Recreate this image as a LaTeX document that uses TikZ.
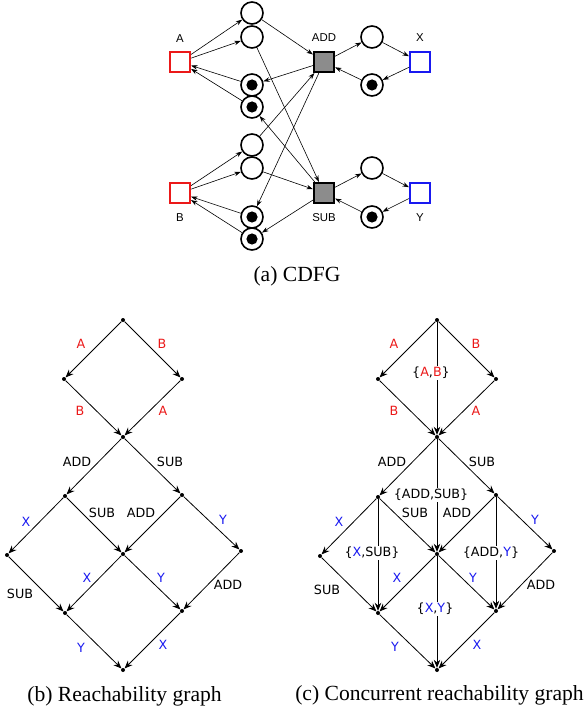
\documentclass[tikz,border=0pt]{standalone}
\usepackage{fontspec}
\setmainfont{Liberation Serif}
\newfontfamily\cdfgfont{Liberation Sans}
\newfontfamily\grfont{DejaVu Sans}
\usetikzlibrary{arrows.meta}
\definecolor{cred}{RGB}{235,25,25}
\definecolor{cblue}{RGB}{25,25,240}
\definecolor{tgray}{RGB}{140,140,140}
\begin{document}
\begin{tikzpicture}[x=1pt,y=-1pt,
 place/.style={circle,draw,line width=1.6pt,minimum size=22pt,inner sep=0pt},
 trans/.style={rectangle,draw,line width=1.6pt,minimum size=20.5pt,inner sep=0pt},
 carc/.style={-{Stealth[length=6.5pt,width=4.5pt]},line width=0.6pt},
 vtx/.style={circle,fill,inner sep=0pt,minimum size=4pt},
 garc/.style={-{Stealth[length=8pt,width=6.5pt]},line width=0.8pt},
 glab/.style={font=\grfont\fontsize{12.7}{14}\selectfont,inner sep=1pt},
 vlab/.style={glab,fill=white,inner sep=1.5pt},
 clab/.style={font=\cdfgfont\fontsize{11.4}{13}\selectfont},
 captxt/.style={font=\fontsize{21.6}{24}\selectfont,anchor=base}
]
\useasboundingbox (0,0) rectangle (586,711);

% ---------------- (a) CDFG ----------------
\node[trans,draw=cred] (A) at (180,62) {};
\node[trans,draw=cred] (B) at (180,193) {};
\node[trans,fill=tgray] (ADD) at (324,62) {};
\node[trans,fill=tgray] (SUB) at (324,193) {};
\node[trans,draw=cblue] (X) at (420,62) {};
\node[trans,draw=cblue] (Y) at (420,193) {};

\node[place] (p1) at (252,13) {};
\node[place] (p2) at (252,37) {};
\node[place] (t3) at (252,85) {};
\node[place] (t4) at (252,107) {};
\node[place] (p5) at (252,145) {};
\node[place] (p6) at (252,168) {};
\node[place] (t7) at (252,217) {};
\node[place] (t8) at (252,239) {};
\node[place] (px) at (372,37) {};
\node[place] (tx) at (372,85) {};
\node[place] (py) at (372,168) {};
\node[place] (ty) at (372,217) {};
\foreach \t in {t3,t4,t7,t8,tx,ty} \fill (\t.center) circle (5.6pt);

\node[clab] (lA) at (180,39) {A};
\node[clab] (lADD) at (324,38) {ADD};
\node[clab] (lX) at (420,38) {X};
\node[clab] (lB) at (180,218) {B};
\node[clab] (lSUB) at (324,218) {SUB};
\node[clab] (lY) at (420,218) {Y};

\draw[carc] (A) -- (p1);
\draw[carc] (A) -- (p2);
\draw[carc] (t3) -- (A);
\draw[carc] (t4) -- (A);
\draw[carc] (p1) -- (ADD);
\draw[carc] (p2) -- (SUB);
\draw[carc] (ADD) -- (t3);
\draw[carc] (SUB) -- (t4);
\draw[carc] (p5) -- (ADD);
\draw[carc] (p6) -- (SUB);
\draw[carc] (ADD) -- (t7);
\draw[carc] (SUB) -- (t8);
\draw[carc] (B) -- (p5);
\draw[carc] (B) -- (p6);
\draw[carc] (t7) -- (B);
\draw[carc] (t8) -- (B);
\draw[carc] (ADD) -- (px);
\draw[carc] (px) -- (X);
\draw[carc] (X) -- (tx);
\draw[carc] (tx) -- (ADD);
\draw[carc] (SUB) -- (py);
\draw[carc] (py) -- (Y);
\draw[carc] (Y) -- (ty);
\draw[carc] (ty) -- (SUB);

\node[captxt] (capa) at (297,281) {(a) CDFG};

% ---------------- (b) Reachability graph ----------------
\node[vtx] (b0) at (123,320) {};
\node[vtx] (b1l) at (64,379) {};
\node[vtx] (b1r) at (182,379) {};
\node[vtx] (b2) at (123,437) {};
\node[vtx] (b3l) at (65,496) {};
\node[vtx] (b3r) at (182,495) {};
\node[vtx] (b4ll) at (7,555) {};
\node[vtx] (b4c) at (123,554) {};
\node[vtx] (b4rr) at (241,551) {};
\node[vtx] (b5l) at (65,613) {};
\node[vtx] (b5r) at (182,611) {};
\node[vtx] (b6) at (123,670) {};

\draw[garc] (b0) -- (b1l);
\draw[garc] (b0) -- (b1r);
\draw[garc] (b1l) -- (b2);
\draw[garc] (b1r) -- (b2);
\draw[garc] (b2) -- (b3l);
\draw[garc] (b2) -- (b3r);
\draw[garc] (b3l) -- (b4ll);
\draw[garc] (b3l) -- (b4c);
\draw[garc] (b3r) -- (b4c);
\draw[garc] (b3r) -- (b4rr);
\draw[garc] (b4ll) -- (b5l);
\draw[garc] (b4c) -- (b5l);
\draw[garc] (b4c) -- (b5r);
\draw[garc] (b4rr) -- (b5r);
\draw[garc] (b5l) -- (b6);
\draw[garc] (b5r) -- (b6);

\node[glab,text=cred] at (81,344) {A};
\node[glab,text=cred] at (162,344) {B};
\node[glab,text=cred] at (80,411) {B};
\node[glab,text=cred] at (163,411) {A};
\node[glab] at (77,462) {ADD};
\node[glab] at (170,462) {SUB};
\node[glab,text=cblue] at (26,522) {X};
\node[glab] at (102,513) {SUB};
\node[glab] at (141,513) {ADD};
\node[glab,text=cblue] at (223,520) {Y};
\node[glab] at (20,594) {SUB};
\node[glab,text=cblue] at (87,578) {X};
\node[glab,text=cblue] at (161,578) {Y};
\node[glab] at (228,585) {ADD};
\node[glab,text=cblue] at (81,648) {Y};
\node[glab,text=cblue] at (163,645) {X};

\node[captxt] (capb) at (124.5,701) {(b) Reachability graph};

% ---------------- (c) Concurrent reachability graph ----------------
\node[vtx] (c0) at (437,320) {};
\node[vtx] (c1l) at (378,379) {};
\node[vtx] (c1r) at (496,379) {};
\node[vtx] (c2) at (437,437) {};
\node[vtx] (c3l) at (378,497) {};
\node[vtx] (c3r) at (496,495) {};
\node[vtx] (c4ll) at (320,556) {};
\node[vtx] (c4c) at (437,554) {};
\node[vtx] (c4rr) at (554,551) {};
\node[vtx] (c5l) at (378,613) {};
\node[vtx] (c5r) at (496,611) {};
\node[vtx] (c6) at (437,670) {};

\draw[garc] (c0) -- (c1l);
\draw[garc] (c0) -- (c1r);
\draw[garc] (c1l) -- (c2);
\draw[garc] (c1r) -- (c2);
\draw[garc] (c2) -- (c3l);
\draw[garc] (c2) -- (c3r);
\draw[garc] (c3l) -- (c4ll);
\draw[garc] (c3l) -- (c4c);
\draw[garc] (c3r) -- (c4c);
\draw[garc] (c3r) -- (c4rr);
\draw[garc] (c4ll) -- (c5l);
\draw[garc] (c4c) -- (c5l);
\draw[garc] (c4c) -- (c5r);
\draw[garc] (c4rr) -- (c5r);
\draw[garc] (c5l) -- (c6);
\draw[garc] (c5r) -- (c6);
\draw[garc] (c0) -- (c2);
\draw[garc] (c2) -- (c4c);
\draw[garc] (c3l) -- (c5l);
\draw[garc] (c3r) -- (c5r);
\draw[garc] (c4c) -- (c6);

\node[glab,text=cred] at (394,344) {A};
\node[glab,text=cred] at (476,344) {B};
\node[glab,text=cred] at (394,411) {B};
\node[glab,text=cred] at (476,411) {A};
\node[glab] at (392,462) {ADD};
\node[glab] at (482,462) {SUB};
\node[glab,text=cblue] at (339,522) {X};
\node[glab] at (415,513) {SUB};
\node[glab] at (457,513) {ADD};
\node[glab,text=cblue] at (535,520) {Y};
\node[glab] at (327,590) {SUB};
\node[glab,text=cblue] at (397,578) {X};
\node[glab,text=cblue] at (473,578) {Y};
\node[glab] at (541,585) {ADD};
\node[glab,text=cblue] at (395,647) {Y};
\node[glab,text=cblue] at (477,645) {X};

\node[vlab] at (431,373) {\{\textcolor{cred}{A},\textcolor{cred}{B}\}};
\node[vlab] at (431,495) {\{ADD,SUB\}};
\node[vlab] at (372,553) {\{\textcolor{cblue}{X},SUB\}};
\node[vlab] at (491,553) {\{ADD,\textcolor{cblue}{Y}\}};
\node[vlab] at (435,609) {\{\textcolor{cblue}{X},\textcolor{cblue}{Y}\}};

\node[captxt] (capc) at (439.5,700) {(c) Concurrent reachability graph};
\end{tikzpicture}
\end{document}
